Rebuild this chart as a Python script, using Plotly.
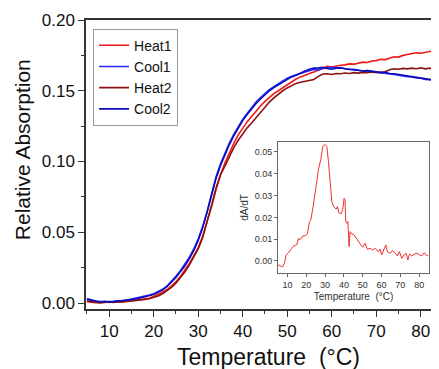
import plotly.graph_objects as go

# ---- main chart data (temperature in °C, relative absorption) ----
temps = list(range(5, 85))

heat1 = [0.0010, 0.0005, 0.0002, 0.0006, 0.0010, 0.0004, 0.0011, 0.0007, 0.0010, 0.0013,
         0.0015, 0.0021, 0.0024, 0.0031, 0.0034, 0.0046, 0.0059, 0.0076, 0.0094, 0.0121,
         0.0150, 0.0188, 0.0232, 0.0278, 0.0333, 0.0390, 0.0472, 0.0570, 0.0680, 0.0800,
         0.0905, 0.0990, 0.1062, 0.1128, 0.1188, 0.1235, 0.1280, 0.1318, 0.1358, 0.1392,
         0.1425, 0.1452, 0.1480, 0.1500, 0.1522, 0.1540, 0.1562, 0.1583, 0.1598, 0.1612,
         0.1622, 0.1633, 0.1645, 0.1662, 0.1672, 0.1668, 0.1675, 0.1680, 0.1683, 0.1690,
         0.1688, 0.1697, 0.1702, 0.1700, 0.1710, 0.1713, 0.1722, 0.1720, 0.1732, 0.1740,
         0.1738, 0.1750, 0.1756, 0.1762, 0.1768, 0.1765, 0.1772, 0.1778, 0.1783, 0.1790]

cool1 = [0.0032, 0.0022, 0.0014, 0.0010, 0.0008, 0.0011, 0.0012, 0.0016, 0.0014, 0.0021,
         0.0026, 0.0031, 0.0041, 0.0045, 0.0057, 0.0066, 0.0081, 0.0097, 0.0121, 0.0152,
         0.0190, 0.0228, 0.0272, 0.0322, 0.0382, 0.0452, 0.0540, 0.0645, 0.0770, 0.0890,
         0.0982, 0.1062, 0.1130, 0.1192, 0.1250, 0.1298, 0.1340, 0.1382, 0.1420, 0.1452,
         0.1480, 0.1508, 0.1528, 0.1550, 0.1570, 0.1588, 0.1602, 0.1610, 0.1622, 0.1632,
         0.1640, 0.1650, 0.1648, 0.1658, 0.1662, 0.1665, 0.1660, 0.1662, 0.1655, 0.1650,
         0.1652, 0.1644, 0.1640, 0.1642, 0.1635, 0.1632, 0.1630, 0.1622, 0.1618, 0.1616,
         0.1610, 0.1605, 0.1600, 0.1598, 0.1590, 0.1588, 0.1580, 0.1578, 0.1572, 0.1568]

heat2 = [0.0015, 0.0010, 0.0006, 0.0001, 0.0005, 0.0008, 0.0004, 0.0010, 0.0007, 0.0010,
         0.0012, 0.0016, 0.0019, 0.0025, 0.0030, 0.0040, 0.0050, 0.0066, 0.0085, 0.0110,
         0.0140, 0.0178, 0.0220, 0.0268, 0.0320, 0.0382, 0.0462, 0.0572, 0.0690, 0.0812,
         0.0905, 0.0968, 0.1038, 0.1098, 0.1150, 0.1198, 0.1238, 0.1272, 0.1310, 0.1350,
         0.1390, 0.1420, 0.1450, 0.1478, 0.1500, 0.1520, 0.1538, 0.1552, 0.1560, 0.1568,
         0.1572, 0.1580, 0.1602, 0.1618, 0.1620, 0.1615, 0.1622, 0.1620, 0.1625, 0.1622,
         0.1628, 0.1625, 0.1630, 0.1628, 0.1632, 0.1630, 0.1628, 0.1635, 0.1648, 0.1655,
         0.1652, 0.1658, 0.1655, 0.1660, 0.1656, 0.1662, 0.1655, 0.1660, 0.1652, 0.1650]

cool2 = [0.0025, 0.0019, 0.0011, 0.0008, 0.0011, 0.0007, 0.0010, 0.0013, 0.0018, 0.0020,
         0.0023, 0.0029, 0.0036, 0.0044, 0.0051, 0.0060, 0.0076, 0.0091, 0.0116, 0.0146,
         0.0180, 0.0222, 0.0262, 0.0312, 0.0370, 0.0442, 0.0532, 0.0642, 0.0762, 0.0880,
         0.0970, 0.1050, 0.1120, 0.1182, 0.1240, 0.1290, 0.1332, 0.1372, 0.1410, 0.1442,
         0.1472, 0.1500, 0.1522, 0.1542, 0.1562, 0.1580, 0.1598, 0.1610, 0.1628, 0.1640,
         0.1652, 0.1660, 0.1662, 0.1665, 0.1658, 0.1652, 0.1660, 0.1662, 0.1655, 0.1650,
         0.1648, 0.1645, 0.1640, 0.1642, 0.1638, 0.1632, 0.1628, 0.1630, 0.1622, 0.1620,
         0.1615, 0.1612, 0.1610, 0.1605, 0.1600, 0.1595, 0.1590, 0.1582, 0.1575, 0.1562]

# ---- inset data: dA/dT vs temperature ----
d_temps = [4.9, 6.1, 7.5, 8.4, 9.3, 10.5, 12.3, 13.2, 15.0, 15.9, 16.7, 18.2, 19.4, 20.6,
           21.7, 22.4, 23.8, 25.2, 26.5, 27.7, 28.8, 30.0, 30.9, 31.8, 32.7, 33.6, 34.5,
           35.9, 36.6, 37.3, 38.5, 39.4, 40.1, 40.6, 41.0, 41.5, 42.1, 42.4, 42.8, 43.3,
           44.2, 45.4, 46.5, 47.7, 49.0, 50.0, 51.2, 52.5, 53.9, 55.3, 56.7, 58.2, 59.2,
           60.1, 61.4, 62.3, 63.1, 64.6, 65.8, 67.2, 68.5, 69.5, 70.8, 72.0, 73.1, 74.0,
           74.9, 76.1, 77.4, 78.8, 80.2, 81.4, 82.7, 83.6, 84.8]
d_vals = [-0.0015, -0.0023, -0.0026, -0.0010, 0.0028, 0.0038, 0.0058, 0.0069, 0.0075, 0.0104,
          0.0097, 0.0115, 0.0115, 0.0124, 0.0180, 0.0186, 0.0258, 0.0340, 0.0420, 0.0465,
          0.0526, 0.0534, 0.0526, 0.0457, 0.0373, 0.0273, 0.0250, 0.0238, 0.0250, 0.0222,
          0.0216, 0.0235, 0.0288, 0.0280, 0.0181, 0.0173, 0.0181, 0.0097, 0.0066, 0.0135,
          0.0124, 0.0120, 0.0104, 0.0089, 0.0074, 0.0063, 0.0081, 0.0054, 0.0058, 0.0051,
          0.0058, 0.0043, 0.0055, 0.0028, 0.0058, 0.0074, 0.0043, 0.0035, 0.0048, 0.0038,
          0.0023, 0.0043, 0.0012, 0.0028, 0.0035, 0.0005, 0.0032, 0.0023, 0.0032, 0.0035,
          0.0028, 0.0023, 0.0038, 0.0028, 0.0023]

series_names = ["Heat1", "Cool1", "Heat2", "Cool2"]
series_vals = [heat1, cool1, heat2, cool2]
series_colors = ["#f01818", "#2a2aff", "#8b1212", "#0c0cb8"]

FONT = "Liberation Sans, Arial, sans-serif"

fig = go.Figure()
for name, vals, col in zip(series_names, series_vals, series_colors):
    fig.add_trace(go.Scatter(x=temps, y=vals, mode="lines", name=name,
                             line=dict(color=col, width=1.6)))

fig.add_trace(go.Scatter(x=d_temps, y=d_vals, mode="lines", showlegend=False,
                         line=dict(color="#f03030", width=1),
                         xaxis="x2", yaxis="y2"))

axis_line = "#333333"
# the page body adds an 8px offset; figure is sized so its plot area lands where the reference's does
fig.update_layout(
    width=431, height=361,
    margin=dict(l=78, r=0, t=12, b=60),
    paper_bgcolor="white", plot_bgcolor="white",
    font=dict(family=FONT, color="#111111"),
    showlegend=True,
    legend=dict(x=0.02, y=0.97, xanchor="left", yanchor="top",
                bgcolor="white", bordercolor="#999999", borderwidth=1,
                font=dict(size=14, family=FONT), itemwidth=30,
                tracegroupgap=0, traceorder="normal"),
    xaxis=dict(range=[4.8, 84.1], tickvals=[10, 20, 30, 40, 50, 60, 70, 80],
               automargin=False,
               showgrid=False, zeroline=False, showline=True, linecolor=axis_line,
               linewidth=1.5, mirror=True, ticks="outside", ticklen=6, tickwidth=1.2,
               tickcolor=axis_line, tickfont=dict(size=17),
               minor=dict(tickvals=[5, 15, 25, 35, 45, 55, 65, 75], ticks="outside",
                          ticklen=3, tickcolor=axis_line)),
    yaxis=dict(range=[-0.0042, 0.2], tickvals=[0.0, 0.05, 0.10, 0.15, 0.20],
               ticktext=["0.00", "0.05", "0.10", "0.15", "0.20"],
               automargin=False,
               showgrid=False, zeroline=False, showline=True, linecolor=axis_line,
               linewidth=1.5, ticks="outside", ticklen=6, tickwidth=1.2,
               tickcolor=axis_line, tickfont=dict(size=17),
               minor=dict(tickvals=[0.025, 0.075, 0.125, 0.175], ticks="outside",
                          ticklen=3, tickcolor=axis_line)),
    xaxis2=dict(domain=[0.544, 0.972], anchor="y2", range=[5, 85.3],
                tickvals=[10, 20, 30, 40, 50, 60, 70, 80],
                showgrid=False, zeroline=False, showline=True, linecolor="#666666",
                linewidth=1, mirror=True, ticks="outside", ticklen=3, tickcolor="#666666",
                tickfont=dict(size=9, color="#333333"),
                title=dict(text="Temperature  (°C)", font=dict(size=10, color="#333333"),
                           standoff=4)),
    yaxis2=dict(domain=[0.1246, 0.578], anchor="x2", range=[-0.0055, 0.0546],
                tickvals=[0.0, 0.01, 0.02, 0.03, 0.04, 0.05],
                ticktext=["0.00", "0.01", "0.02", "0.03", "0.04", "0.05"],
                showgrid=False, zeroline=False, showline=True, linecolor="#666666",
                linewidth=1, mirror=True, ticks="outside", ticklen=3, tickcolor="#666666",
                tickfont=dict(size=9, color="#333333"),
                title=dict(text="dA/dT", font=dict(size=10, color="#333333"), standoff=4)),
    annotations=[
        dict(text="Temperature  (°C)", xref="paper", yref="paper", x=0.516, y=-0.115,
             xanchor="center", yanchor="top", showarrow=False,
             font=dict(size=23, family=FONT, color="#111111")),
        dict(text="Relative Absorption", xref="paper", yref="paper", x=-0.181, y=0.55,
             xanchor="center", yanchor="middle", textangle=-90, showarrow=False,
             font=dict(size=21, family=FONT, color="#111111")),
    ],
)

fig.write_html("out.html")
